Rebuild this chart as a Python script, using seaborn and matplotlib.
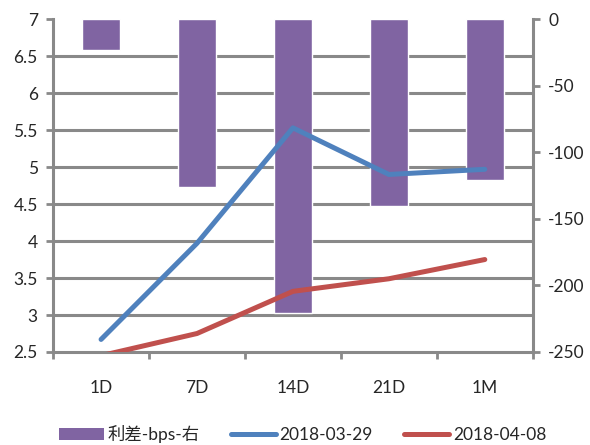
import numpy as np
import pandas as pd
import seaborn as sns
import matplotlib.pyplot as plt
from matplotlib.lines import Line2D
from matplotlib.patches import Patch


tenors = ['1D', '7D', '14D', '21D', '1M']
spread_bps = [-23, -126, -221, -140, -121]
rate_0329 = [2.67, 3.97, 5.53, 4.90, 4.97]
rate_0408 = [2.45, 2.75, 3.32, 3.49, 3.75]
left_ticks = [2.5, 3, 3.5, 4, 4.5, 5, 5.5, 6, 6.5, 7]
right_ticks = [-250, -200, -150, -100, -50, 0]

PURPLE = '#8064A2'
BLUE = '#4F81BD'
RED = '#C0504D'
GRAY = '#898989'


def main() -> None:

    sns.set_style('white')
    plt.rcParams['font.family'] = ['Lato', 'Noto Sans CJK SC', 'DejaVu Sans']
    plt.rcParams['font.size'] = 12.5

    bars = pd.DataFrame({'tenor': tenors, 'spread': spread_bps})
    lines = pd.DataFrame({
        'tenor': tenors * 2,
        'rate': rate_0329 + rate_0408,
        'date': ['2018-03-29'] * 5 + ['2018-04-08'] * 5,
    })

    fig = plt.figure(figsize=(5.9, 4.45), dpi=100)
    ax_bar = fig.add_axes([0.09, 0.209, 0.813, 0.748])
    ax_line = ax_bar.twinx()

    sns.barplot(data=bars, x='tenor', y='spread', color=PURPLE, saturation=1,
                width=0.4, ax=ax_bar, zorder=2)
    sns.lineplot(data=lines, x='tenor', y='rate', hue='date',
                 palette=[BLUE, RED], linewidth=3.6, legend=False,
                 errorbar=None, ax=ax_line, zorder=3,
                 solid_capstyle='round', solid_joinstyle='round')

    ax_bar.set_xlim(-0.5, 4.5)
    ax_bar.set_ylim(-250, 0)
    ax_line.set_ylim(2.5, 7)

    # right axis (bars)
    ax_bar.yaxis.tick_right()
    ax_bar.set_yticks(right_ticks)
    ax_bar.set_yticklabels([str(t) for t in right_ticks])
    # grid follows left axis ticks, drawn behind bars
    grid_pos = [(t - 7) / 4.5 * 250 for t in left_ticks]
    ax_bar.set_yticks(grid_pos, minor=True)
    ax_bar.grid(axis='y', which='minor', color=GRAY, linewidth=2.2)
    ax_bar.grid(axis='y', which='major', visible=False)
    ax_bar.tick_params(axis='y', which='minor', length=0)
    ax_bar.tick_params(axis='y', which='major', direction='out', length=5,
                       width=2, color=GRAY, pad=6, labelsize=12.5,
                       right=True, left=False)

    # x axis
    ax_bar.set_xticks(range(len(tenors)))
    ax_bar.set_xticklabels(tenors)
    ax_bar.set_xticks(np.arange(-0.5, 5, 1), minor=True)
    ax_bar.tick_params(axis='x', which='major', length=0, pad=20, labelsize=12.5)
    ax_bar.tick_params(axis='x', which='minor', direction='out', length=5,
                       width=2, color=GRAY, bottom=True)
    ax_bar.set_xlabel('')
    ax_bar.set_ylabel('')

    for side in ['left', 'bottom', 'right']:
        ax_bar.spines[side].set_visible(True)
        ax_bar.spines[side].set_color(GRAY)
        ax_bar.spines[side].set_linewidth(2.2)
    ax_bar.spines['top'].set_visible(False)

    # left axis (lines)
    ax_line.yaxis.tick_left()
    ax_line.set_yticks(left_ticks)
    ax_line.set_yticklabels([f'{t:g}' for t in left_ticks])
    ax_line.tick_params(axis='y', direction='out', length=5, width=2,
                        color=GRAY, pad=6, labelsize=12.5, left=True, right=False)
    ax_line.set_ylabel('')
    for side in ax_line.spines:
        ax_line.spines[side].set_visible(False)

    handles = [
        Patch(facecolor=PURPLE, edgecolor='none'),
        Line2D([], [], color=BLUE, linewidth=3.6, solid_capstyle='round'),
        Line2D([], [], color=RED, linewidth=3.6, solid_capstyle='round'),
    ]
    fig.legend(handles, ['利差-bps-右', '2018-03-29', '2018-04-08'],
               loc='center', bbox_to_anchor=(0.513, 0.024), ncol=3,
               frameon=False, handlelength=2.6, handletextpad=0.2,
               columnspacing=1.8, fontsize=12.5)

    plt.savefig('out.png', dpi=100)


if __name__ == '__main__':
    main()
